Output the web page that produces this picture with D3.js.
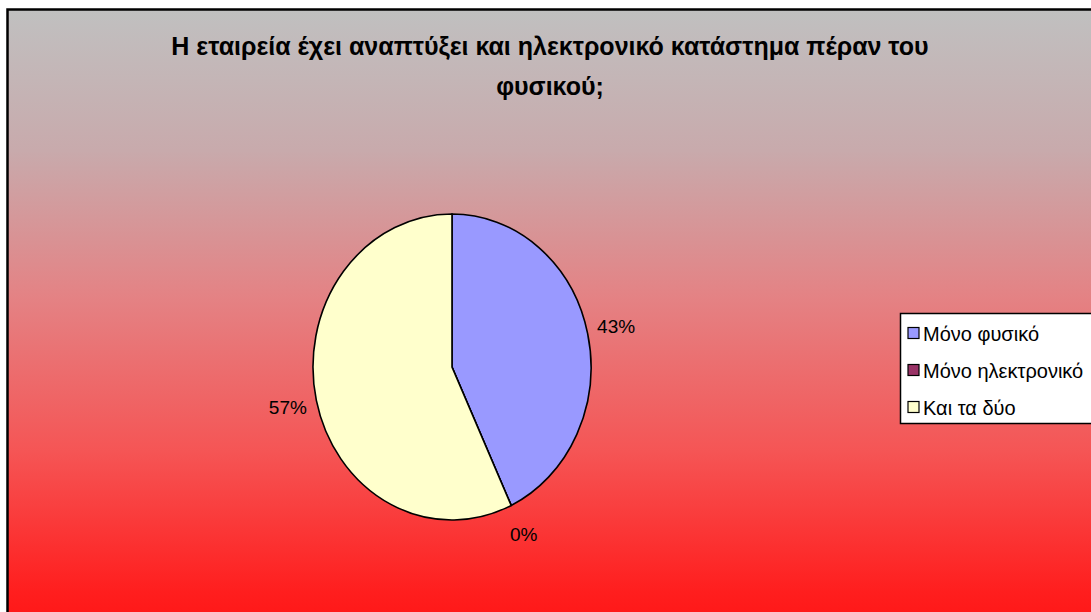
<!DOCTYPE html>
<html>
<head>
<meta charset="utf-8">
<script src="https://cdn.jsdelivr.net/npm/d3@7"></script>
<style>
  html, body { margin: 0; padding: 0; background: #ffffff; overflow: hidden; }
  svg { display: block; }
  text { font-family: "Liberation Sans", Arial, sans-serif; fill: #000; }
</style>
</head>
<body>
<svg id="chart" width="1091" height="612"></svg>
<script>
// Survey answers and their shares (percent)
const categories = ["Μόνο φυσικό", "Μόνο ηλεκτρονικό", "Και τα δύο"];
const values = [43, 0, 57];
const sliceColors = ["#9999ff", "#993366", "#ffffcc"];
const titleLines = ["Η εταιρεία έχει αναπτύξει και ηλεκτρονικό κατάστημα πέραν του", "φυσικού;"];

const svg = d3.select("#chart");

// Background: silver to red vertical gradient inside the chart frame
const defs = svg.append("defs");
const grad = defs.append("linearGradient")
  .attr("id", "bg").attr("x1", 0).attr("y1", 0).attr("x2", 0).attr("y2", 1);
[
  [0, "#c0c0c0"],
  [0.22, "#c8aaac"],
  [0.45, "#e48284"],
  [0.69, "#f55555"],
  [0.91, "#ff1e1e"],
  [1, "#ff1010"]
].forEach(([o, c]) => grad.append("stop").attr("offset", o).attr("stop-color", c));

svg.append("rect")
  .attr("x", 7.5).attr("y", 9.5)
  .attr("width", 1100).attr("height", 640)
  .attr("fill", "url(#bg)")
  .attr("stroke", "#000").attr("stroke-width", 2.5);

// Title
const title = svg.append("text")
  .attr("text-anchor", "middle")
  .style("font-weight", "bold")
  .style("font-size", "25px");
titleLines.forEach((t, i) => {
  title.append("tspan").attr("x", 550).attr("y", 55 + i * 40).text(t);
});

// Pie (slightly taller than wide)
const cx = 452, cy = 367, rx = 139, ry = 153;
const pie = d3.pie().sort(null).value(d => d)(values);
const arc = d3.arc().innerRadius(0).outerRadius(rx);
const labelArc = d3.arc().innerRadius(rx * 1.21).outerRadius(rx * 1.21);

const pieG = svg.append("g")
  .attr("transform", `translate(${cx},${cy}) scale(1,${ry / rx})`);

pieG.selectAll("path")
  .data(pie)
  .join("path")
  .attr("d", arc)
  .attr("fill", (d, i) => sliceColors[i])
  .attr("stroke", "#000")
  .attr("stroke-width", 1.6)
  .attr("vector-effect", "non-scaling-stroke");

// Percentage labels outside the slices
svg.append("g")
  .selectAll("text")
  .data(pie)
  .join("text")
  .attr("x", d => cx + labelArc.centroid(d)[0])
  .attr("y", d => cy + labelArc.centroid(d)[1] * ry / rx)
  .attr("text-anchor", "middle")
  .attr("dominant-baseline", "central")
  .style("font-size", "19px")
  .text(d => d.data + "%");

// Legend
const legend = svg.append("g").attr("transform", "translate(900,313)");
legend.append("rect")
  .attr("x", 0.5).attr("y", 0.5)
  .attr("width", 200).attr("height", 110)
  .attr("fill", "#ffffff")
  .attr("stroke", "#000").attr("stroke-width", 1.5);

const items = legend.selectAll("g.item")
  .data(categories)
  .join("g")
  .attr("class", "item")
  .attr("transform", (d, i) => `translate(0,${20 + i * 37})`);

items.append("rect")
  .attr("x", 8).attr("y", -5.5)
  .attr("width", 11).attr("height", 11)
  .attr("fill", (d, i) => sliceColors[i])
  .attr("stroke", "#000").attr("stroke-width", 1.2);

items.append("text")
  .attr("x", 23).attr("y", 1)
  .attr("dominant-baseline", "central")
  .style("font-size", "20px")
  .text(d => d);
</script>
</body>
</html>
